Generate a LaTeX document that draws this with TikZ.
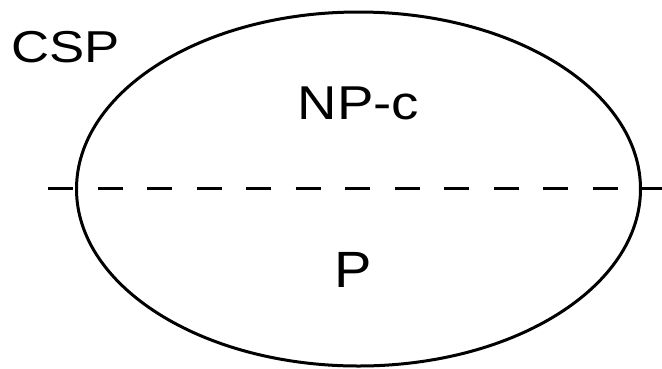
\documentclass[tikz,border=0pt]{standalone}
\usepackage{graphicx}
\usepackage{fontspec}
\setmainfont{Liberation Sans}
\usetikzlibrary{shapes.geometric}
\tikzset{
  lbl/.style={inner sep=0pt, outer sep=0pt, anchor=base},
  set/.style={draw=black, line width=3pt, ellipse, inner sep=0pt},
  divider/.style={draw=black, line width=3pt, dash pattern=on 25pt off 24.5pt}
}
\begin{document}
\begin{tikzpicture}[x=1pt,y=-1pt]
\useasboundingbox (0,0) rectangle (662,368);
\node[set, minimum width=564pt, minimum height=354pt] (csp) at (358.5,189) {};
\coordinate (dl) at (48,188);
\coordinate (dr) at (662,188);
\draw[divider] (dl) -- (dr);
\node[lbl] (csplbl) at (65.5,62) {\scalebox{1.18}[1]{\fontsize{44.7}{50}\selectfont CSP}};
\node[lbl] (npc) at (358.5,119) {\scalebox{1.15}[1]{\fontsize{47.5}{52}\selectfont NP-c}};
\node[lbl] (p) at (353.5,287) {\scalebox{1.1}[1]{\fontsize{51}{56}\selectfont P}};
\end{tikzpicture}
\end{document}
